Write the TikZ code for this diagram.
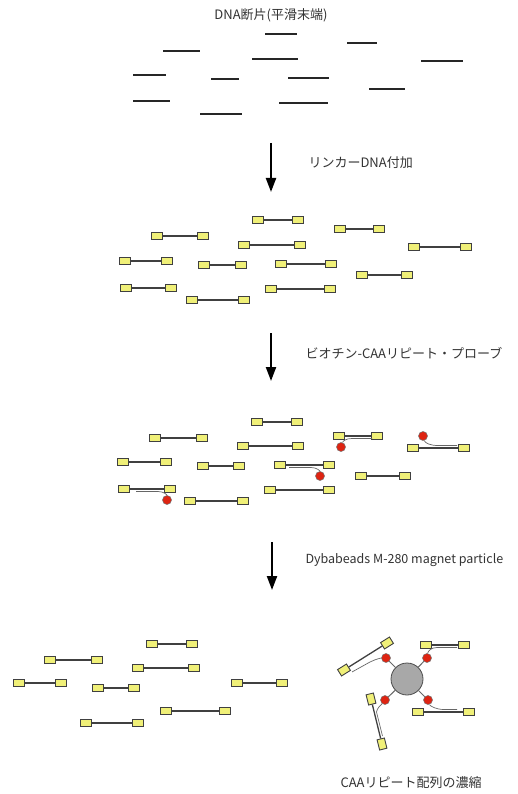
\documentclass[tikz,border=0pt]{standalone}
\usepackage{fontspec}
\setmainfont{Noto Sans CJK JP}
\usetikzlibrary{arrows.meta}

\definecolor{linkeryellow}{RGB}{240,240,120}
\definecolor{biotinred}{RGB}{222,36,18}
\definecolor{beadgray}{RGB}{168,168,168}

\tikzset{
  fragment/.style={line width=1.7pt, black!85},
  linker/.style={rectangle, draw=black!75, fill=linkeryellow, line width=0.9pt,
    minimum width=10.5pt, minimum height=7.5pt, inner sep=0pt},
  strand/.style={line width=1.3pt, black!75},
  biotin/.style={circle, draw=black!55, fill=biotinred, line width=0.5pt,
    minimum size=9pt, inner sep=0pt},
  probe/.style={line width=0.7pt, black!60},
  steparrow/.style={-{Triangle[length=14pt, width=10pt]}, line width=2.2pt},
  steplabel/.style={anchor=west, font=\fontsize{13}{15}\selectfont, text=black!80}
}

\begin{document}
\begin{tikzpicture}[x=1pt, y=-1pt]
    \useasboundingbox (0,0) rectangle (518,794);

    % blunt-ended fragments
    \node[font=\fontsize{13}{15}\selectfont, text=black!80] (title) at (271,15) {DNA断片(平滑末端)};
    \foreach \xa/\xb/\y in {265/297/34, 347/377/43, 163/200/51, 252/298/59,
        421/463/61, 133/166/75, 211/239/79, 288/329/78, 369/405/89,
        133/170/101, 279/328/103, 200/242/114}
      \draw[fragment] (\xa,\y) -- (\xb,\y);

    % step 1
    \coordinate (s1top) at (271,143);
    \coordinate (s1bot) at (271,192);
    \draw[steparrow] (s1top) -- (s1bot);
    \node[steplabel] (s1text) at (305,163) {リンカーDNA付加};

    % fragments with linkers
    \foreach \xa/\xb/\y [count=\i] in {258/298/220, 340/379/229, 157/203/236,
        244/300/245, 414/466/247, 125/167/261, 204/241/265, 281/331/264,
        362/407/275, 126/171/288, 271/330/289, 192/244/300} {
      \node[linker] (la\i) at (\xa,\y) {};
      \node[linker] (lb\i) at (\xb,\y) {};
      \draw[strand] (la\i) -- (lb\i);
    }

    % step 2
    \coordinate (s2top) at (271,333);
    \coordinate (s2bot) at (271,381);
    \draw[steparrow] (s2top) -- (s2bot);
    \node[steplabel] (s2text) at (302,353) {ビオチン-CAAリピート・プローブ};

    % probe hybridisation
    \foreach \xa/\xb/\y [count=\i] in {257/297/422, 155/202/438, 339/377/436,
        243/298/446, 413/464/448, 123/166/462, 203/239/466, 280/329/465,
        361/405/476, 124/170/489, 270/329/490, 190/243/501} {
      \node[linker] (pa\i) at (\xa,\y) {};
      \node[linker] (pb\i) at (\xb,\y) {};
      \draw[strand] (pa\i) -- (pb\i);
    }
    \node[biotin] (bio3) at (341,447) {};
    \node[biotin] (bio5) at (423,436) {};
    \node[biotin] (bio8) at (320,476) {};
    \node[biotin] (bio10) at (167,500) {};
    \draw[probe] (bio3) .. controls (343,441) and (346,438.5) .. (352,438.5) -- (372,438.5);
    \draw[probe] (bio5) .. controls (425,443) and (430,445.5) .. (438,445.5) -- (457,445.5);
    \draw[probe] (bio8) .. controls (320,471) and (317,467.5) .. (311,467.5) -- (289,467.5);
    \draw[probe] (bio10) .. controls (167,495) and (164,491.5) .. (158,491.5) -- (136,491.5);

    % step 3
    \coordinate (s3top) at (272,542);
    \coordinate (s3bot) at (272,590);
    \draw[steparrow] (s3top) -- (s3bot);
    \node[steplabel, font=\fontsize{12.5}{15}\selectfont] (s3text) at (302,560) {Dybabeads M-280 magnet particle};

    % unbound fragments
    \foreach \xa/\xb/\y [count=\i] in {152/192/644, 50/97/660, 138/194/668,
        19/61/683, 98/134/688, 237/282/683, 166/225/711, 86/138/723} {
      \node[linker] (ua\i) at (\xa,\y) {};
      \node[linker] (ub\i) at (\xb,\y) {};
      \draw[strand] (ua\i) -- (ub\i);
    }

    % magnetic bead with captured fragments
    \node[circle, draw=black!70, fill=beadgray, line width=0.8pt, minimum size=32pt] (bead) at (407,679) {};
    \node[biotin] (bul) at (386,658) {};
    \node[biotin] (bur) at (427,658) {};
    \node[biotin] (bll) at (385,700) {};
    \node[biotin] (blr) at (428,700) {};
    \foreach \b in {bul, bur, bll, blr}
      \draw[line width=1pt, black!60] (bead) -- (\b);

    \node[linker, rotate=32] (cula) at (387,643) {};
    \node[linker, rotate=32] (culb) at (344,670) {};
    \draw[strand] (cula) -- (culb);
    \draw[probe] (bul) .. controls (381,658) and (376,659) .. (370,662) -- (352,672);

    \node[linker] (cura) at (426,645) {};
    \node[linker] (curb) at (464,645) {};
    \draw[strand] (cura) -- (curb);
    \draw[probe] (bur) .. controls (428,651) and (431,647.5) .. (437,647.5) -- (457,647.5);

    \node[linker] (clra) at (418,712) {};
    \node[linker] (clrb) at (469,712) {};
    \draw[strand] (clra) -- (clrb);
    \draw[probe] (blr) .. controls (430,706) and (436,709.5) .. (444,709.5) -- (457,709.5);

    \node[linker, rotate=-76] (clla) at (371,699) {};
    \node[linker, rotate=-76] (cllb) at (382,744) {};
    \draw[strand] (clla) -- (cllb);
    \draw[probe] (bll) .. controls (381,705) and (377,708) .. (376.5,712) -- (382.5,736);

    \node[font=\fontsize{13}{15}\selectfont, text=black!80] (result) at (411,783) {CAAリピート配列の濃縮};
\end{tikzpicture}
\end{document}
